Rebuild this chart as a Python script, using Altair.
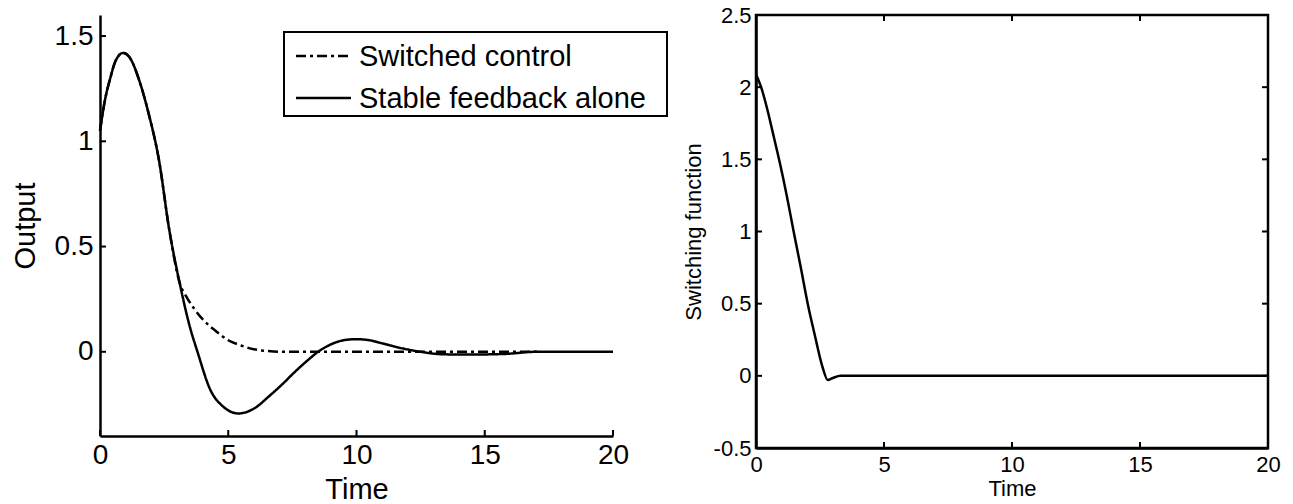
import altair as alt
import pandas as pd

FONT = "Liberation Sans"

# ---- Left panel data: output vs time ----
t_stable = [0.0, 0.2, 0.4, 0.6, 0.9, 1.2, 1.5, 1.9, 2.3, 2.7, 3.1, 3.5, 3.8, 4.3, 4.8,
            5.4, 6.0, 6.6, 7.1, 7.6, 8.1, 8.5, 9.0, 9.5, 10.0, 10.5, 11.0, 11.8, 12.5,
            13.4, 14.5, 15.8, 17.0, 20.0]
y_stable = [1.05, 1.20, 1.30, 1.38, 1.42, 1.39, 1.30, 1.13, 0.91, 0.58, 0.33, 0.12, 0.0,
            -0.18, -0.26, -0.293, -0.27, -0.21, -0.155, -0.095, -0.04, 0.0, 0.035, 0.055,
            0.06, 0.055, 0.04, 0.016, 0.0, -0.012, -0.013, -0.01, 0.0, 0.0]

t_switched = [0.0, 0.2, 0.4, 0.6, 0.9, 1.2, 1.5, 1.9, 2.3, 2.7, 3.1, 3.4, 3.7, 4.0, 4.5,
              5.0, 5.5, 6.0, 6.5, 7.0, 10.0, 13.0, 17.1]
y_switched = [1.05, 1.20, 1.30, 1.38, 1.42, 1.39, 1.30, 1.13, 0.91, 0.58, 0.33, 0.255,
              0.20, 0.155, 0.10, 0.055, 0.03, 0.012, 0.004, 0.0, 0.0, 0.0, 0.0]

# ---- Right panel data: switching function vs time ----
t_swfn = [0.0, 0.2, 0.45, 0.65, 0.9, 1.2, 1.47, 1.75, 2.02, 2.3, 2.6, 2.8, 3.0, 3.3, 5.0, 10.0, 20.0]
y_swfn = [2.09, 2.0, 1.84, 1.69, 1.5, 1.25, 1.0, 0.75, 0.5, 0.28, 0.06, -0.028, -0.015, 0.0,
          0.0, 0.0, 0.0]

x_ticks = [0, 5, 10, 15, 20]
left_y_ticks = [0, 0.5, 1, 1.5]
right_y_ticks = [-0.5, 0, 0.5, 1, 1.5, 2, 2.5]
series_names = ["Switched control", "Stable feedback alone"]
dash_patterns = [[10, 4, 3, 4], [1, 0]]

LW, LH = 513, 421
RW, RH = 512, 433
TICK = 6

df_left = pd.concat([
    pd.DataFrame({"t": t_switched, "y": y_switched, "series": series_names[0]}),
    pd.DataFrame({"t": t_stable, "y": y_stable, "series": series_names[1]}),
])
df_right = pd.DataFrame({"t": t_swfn, "y": y_swfn})

lx = alt.Scale(domain=[0, 20], nice=False, zero=False)
ly = alt.Scale(domain=[-0.4, 1.6], nice=False, zero=False)
rx = alt.Scale(domain=[0, 20], nice=False, zero=False)
ry = alt.Scale(domain=[-0.5, 2.5], nice=False, zero=False)

def axis(values, title, lsize, tsize, lpad, tpad):
    return alt.Axis(values=values, labelExpr="datum.value", ticks=False, grid=False,
                    domainColor="black", domainWidth=2.5, labelColor="black",
                    labelFontSize=lsize, labelFont=FONT, labelPadding=lpad,
                    title=title, titleFontSize=tsize, titleFont=FONT,
                    titleFontWeight="normal", titleColor="black", titlePadding=tpad,
                    labelFlush=False, labelOverlap=False)

ax_lx = axis(x_ticks, "Time", 28, 29, 5, 6)
ax_ly = axis(left_y_ticks, "Output", 28, 29, 7, 14)
ax_rx = axis(x_ticks, "Time", 22, 22, 6, 3)
ax_ry = axis(right_y_ticks, "Switching function", 22, 22, 5, 8)

lines_left = alt.Chart(df_left).mark_line(color="black", strokeWidth=2.5, interpolate="monotone").encode(
    x=alt.X("t:Q", scale=lx, axis=ax_lx),
    y=alt.Y("y:Q", scale=ly, axis=ax_ly),
    strokeDash=alt.StrokeDash("series:N", scale=alt.Scale(domain=series_names, range=dash_patterns), legend=None),
    detail="series:N",
)

ticks_lx = alt.Chart(pd.DataFrame({"t": x_ticks})).mark_rule(color="black", strokeWidth=2).encode(
    x=alt.X("t:Q", scale=lx, axis=ax_lx), y=alt.value(LH), y2=alt.value(LH - TICK))
ticks_ly = alt.Chart(pd.DataFrame({"y": left_y_ticks})).mark_rule(color="black", strokeWidth=2).encode(
    y=alt.Y("y:Q", scale=ly, axis=ax_ly), x=alt.value(0), x2=alt.value(TICK))

one = pd.DataFrame({"a": [0]})
leg_box = alt.Chart(one).mark_rect(fill="white", stroke="black", strokeWidth=2).encode(
    x=alt.value(184), x2=alt.value(567), y=alt.value(17), y2=alt.value(101))
leg_sym1 = alt.Chart(one).mark_rule(color="black", strokeWidth=2.5, strokeDash=dash_patterns[0]).encode(
    x=alt.value(196), x2=alt.value(251), y=alt.value(41))
leg_sym2 = alt.Chart(one).mark_rule(color="black", strokeWidth=2.5).encode(
    x=alt.value(196), x2=alt.value(251), y=alt.value(83))
leg_txt1 = alt.Chart(one).mark_text(align="left", baseline="middle", fontSize=29, font=FONT, color="black").encode(
    x=alt.value(259), y=alt.value(42), text=alt.value(series_names[0]))
leg_txt2 = alt.Chart(one).mark_text(align="left", baseline="middle", fontSize=29, font=FONT, color="black").encode(
    x=alt.value(259), y=alt.value(84), text=alt.value(series_names[1]))

left = alt.layer(lines_left, ticks_lx, ticks_ly, leg_box, leg_sym1, leg_sym2, leg_txt1, leg_txt2).properties(
    width=LW, height=LH, view=alt.ViewBackground(stroke="transparent"))

line_right = alt.Chart(df_right).mark_line(color="black", strokeWidth=2.5, interpolate="monotone").encode(
    x=alt.X("t:Q", scale=rx, axis=ax_rx),
    y=alt.Y("y:Q", scale=ry, axis=ax_ry),
)
rt_bottom = alt.Chart(pd.DataFrame({"t": x_ticks})).mark_rule(color="black", strokeWidth=2).encode(
    x=alt.X("t:Q", scale=rx, axis=ax_rx), y=alt.value(RH), y2=alt.value(RH - TICK))
rt_top = alt.Chart(pd.DataFrame({"t": x_ticks})).mark_rule(color="black", strokeWidth=2).encode(
    x=alt.X("t:Q", scale=rx, axis=ax_rx), y=alt.value(0), y2=alt.value(TICK))
rt_left = alt.Chart(pd.DataFrame({"y": right_y_ticks})).mark_rule(color="black", strokeWidth=2).encode(
    y=alt.Y("y:Q", scale=ry, axis=ax_ry), x=alt.value(0), x2=alt.value(TICK))
rt_right = alt.Chart(pd.DataFrame({"y": right_y_ticks})).mark_rule(color="black", strokeWidth=2).encode(
    y=alt.Y("y:Q", scale=ry, axis=ax_ry), x=alt.value(RW), x2=alt.value(RW - TICK))

right = alt.layer(line_right, rt_bottom, rt_top, rt_left, rt_right).properties(
    width=RW, height=RH, view=alt.ViewBackground(stroke="black", strokeWidth=2.5))

chart = alt.hconcat(left, right, spacing=143, bounds="flush").properties(
    padding={"left": 10, "top": 2, "right": 5, "bottom": 2}
).configure(font=FONT, background="white")

chart.save("out.html", embed_options={"renderer": "svg", "actions": False})
